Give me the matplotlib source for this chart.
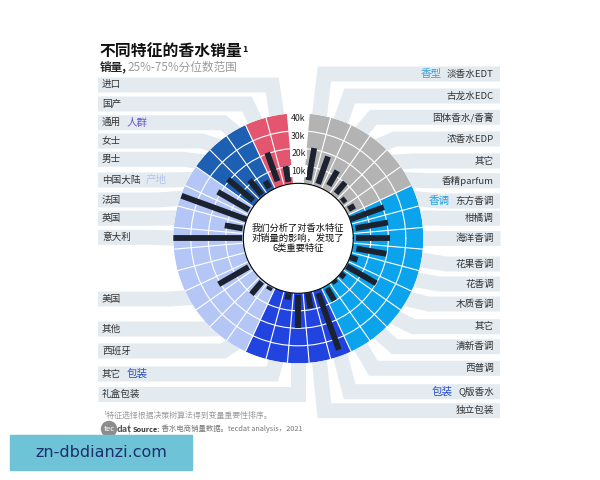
"""
不同特征的香水销量 - radial range chart (25%-75% percentile of sales)
"""
import numpy as np
import matplotlib.pyplot as plt
from matplotlib.patches import Circle, Rectangle

plt.rcParams['font.family'] = ['Noto Sans CJK SC', 'DejaVu Sans']

# slots go clockwise from the top, 10 degrees each; '' marks an empty slot
labels = ['', '淡香水EDT', '古龙水EDC', '固体香水/香膏', '浓香水EDP', '其它', '香精parfum',
          '东方香调', '柑橘调', '海洋香调', '花果香调', '花香调', '木质香调', '其它', '清新香调', '西普调',
          'Q版香水', '独立包装', '礼盒包装', '其它', '',
          '西班牙', '其他', '', '美国', '', '', '意大利', '英国', '法国', '中国大陆',
          '男士', '女士', '通用', '国产', '进口']
nan = np.nan
low = [nan, 2.3, 1.7, 3.4, 2.1, 1.1, 1.7,
       0.3, 1.7, 1.7, 2.3, 0.0, 0.6, 0.0, 0.0, 1.4,
       2.0, 0.6, 1.1, 0.6, nan,
       0.6, 1.1, nan, 1.4, nan, nan, 0.9, 0.9, 0.0, 1.1,
       2.3, 1.1, 1.7, 3.3, 1.3]
high = [nan, 20.9, 18.3, 13.1, 10.3, 3.8, 5.7,
        20.6, 20.6, 21.1, 19.7, 4.6, 20.0, 3.1, 2.0, 9.7,
        36.3, 9.1, 20.0, 4.2, nan,
        2.6, 10.3, nan, 21.1, nan, nan, 40.0, 11.2, 39.6, 21.7,
        21.1, 12.0, 6.3, 20.6, 10.4]

groups = ['香型', '香调', '包装', '产地', '人群', '']
group_sizes = [6, 9, 5, 10, 3, 2]
group_colors = ['#b3b3b3', '#0aa3ec', '#2143df', '#b4c6f6', '#1c5fb3', '#e4566f']
tag_colors = ['#3b9fd6', '#1aa0e2', '#2a4fc8', '#b4c6f2', '#6a55c0', '#e4566f']
rticks = [10, 20, 30, 40]

# layout: vertical position (px) of each label row
label_y = [nan, 74, 96, 117.3, 139, 161, 180.7, 201, 218.3, 238.3, 264, 284, 304, 326.7,
           346.7, 368.3, 391.7, 410.7, 394.3, 374, nan, 351, 329, nan, 299, nan, nan,
           237.3, 218.3, 200, 180, 159.3, 141, 122.7, 104, 85]

W, H = 600, 480
cx, cy, R = 298.3, 238.3, 125
n = len(labels)
theta = np.deg2rad(np.mod(90 - 10 * np.arange(n), 360))
edges = np.deg2rad(np.mod(95 - 10 * np.arange(n), 360))
slot_group = np.concatenate([[-1], np.repeat(np.arange(len(groups)), group_sizes)])
right = np.cos(theta) > 0.01

fig = plt.figure(figsize=(6, 4.8), dpi=100)
bg = fig.add_axes([0, 0, 1, 1])
bg.set_xlim(0, W)
bg.set_ylim(H, 0)
bg.axis('off')

# leader bands behind the ring
for k in range(n):
    if not labels[k]:
        continue
    a = theta[k]
    y = label_y[k]
    bx = cx + 150 * np.cos(a)
    rx, ry = cx + 118 * np.cos(a), cy - 118 * np.sin(a)
    x0 = 500 if right[k] else 98
    bg.plot([x0, bx, rx], [y, y, ry], color='#e3eaf0', lw=10.8,
            solid_joinstyle='miter', solid_capstyle='butt', zorder=1)

# ring
ax = fig.add_axes([(cx - R) / W, 1 - (cy + R) / H, 2 * R / W, 2 * R / H], projection='polar')
for k in range(1, n):
    ax.bar(theta[k], 40, width=np.deg2rad(10), bottom=0,
           color=group_colors[slot_group[k]], edgecolor='none', zorder=0.5)
for k in range(n):
    if labels[k]:
        ax.plot([theta[k], theta[k]], [low[k], high[k]], color='#1b2230', lw=4.2,
                solid_capstyle='butt', zorder=3)
ax.set_xticks(np.sort(edges))
ax.set_yticks(rticks[:-1])
ax.set_xticklabels([])
ax.set_yticklabels([])
ax.set_xlim(0, 2 * np.pi)
ax.set_ylim(0, 40)
ax.set_rorigin(-31.4)
ax.grid(True, color='white', lw=0.8)
for s in ax.spines.values():
    s.set_visible(False)
for v in rticks:
    ax.text(np.pi / 2, v - 3, f'{v}k', ha='center', va='center', fontsize=6.3, color='#222222',
            bbox=dict(fc='white', ec='none', pad=0.8), zorder=4)
ax.text(0.5, 0.5, '我们分析了对香水特征\n对销量的影响，发现了\n6类重要特征', transform=ax.transAxes,
        ha='center', va='center', fontsize=6.7, linespacing=1.1, color='#111111')

# category labels and group tags
tagged = set()
for k in np.argsort(label_y):
    if not labels[k]:
        continue
    g = slot_group[k]
    if right[k]:
        t = bg.text(494, label_y[k], labels[k], ha='right', va='center', fontsize=6.9, color='#333333')
    else:
        t = bg.text(102, label_y[k], labels[k], ha='left', va='center', fontsize=6.9, color='#333333')
    if groups[g] and (g, right[k]) not in tagged:
        tagged.add((g, right[k]))
        if right[k]:
            bg.annotate(groups[g], xy=(0, 0.5), xycoords=t, xytext=(-4, 0), textcoords='offset points',
                        ha='right', va='center', fontsize=7.6, color=tag_colors[g])
        else:
            bg.annotate(groups[g], xy=(1, 0.5), xycoords=t, xytext=(4, 0), textcoords='offset points',
                        ha='left', va='center', fontsize=7.6, color=tag_colors[g])

# titles
title = bg.text(100, 51, '不同特征的香水销量', fontsize=11.4, weight='bold', color='#111111', va='center')
bg.annotate('1', xy=(1, 0.85), xycoords=title, xytext=(-0.5, 0), textcoords='offset points',
            ha='left', va='top', fontsize=6.5, weight='bold', color='#111111')
sub = bg.text(100, 67, '销量,', fontsize=8.4, weight='bold', color='#222222', va='center')
bg.annotate('25%-75%分位数范围', xy=(1, 0), xycoords=sub, ha='left', va='bottom',
            fontsize=8.4, color='#9a9a9a')

# footer
bg.text(103, 415, '¹特征选择根据决策树算法得到变量重要性排序。', fontsize=5.7, color='#9a9a9a', va='center')
bg.add_patch(Circle((109, 429), 7.5, color='#8c8c8c', zorder=2))
bg.text(109, 429, 'tec', fontsize=5.5, color='white', ha='center', va='center', zorder=3)
bg.text(117, 429, 'dat', fontsize=6.5, color='#555555', ha='left', va='center', weight='bold')
bg.plot([129, 129], [423, 435], color='#cccccc', lw=0.6)
src = bg.text(133, 429, 'Source:', fontsize=5.3, weight='bold', color='#333333', va='center')
bg.annotate(' 香水电商销量数据。tecdat analysis，2021', xy=(1, 0.5), xycoords=src,
            ha='left', va='center', fontsize=5.3, color='#777777')

bg.add_patch(Rectangle((10, 435), 182, 35, color='#6ec4d6', zorder=2))
bg.text(101, 452.5, 'zn-dbdianzi.com', fontsize=11.5, color='#1b2f6e', ha='center', va='center',
        family='DejaVu Sans', zorder=3)

fig.savefig('out.png', dpi=100)
